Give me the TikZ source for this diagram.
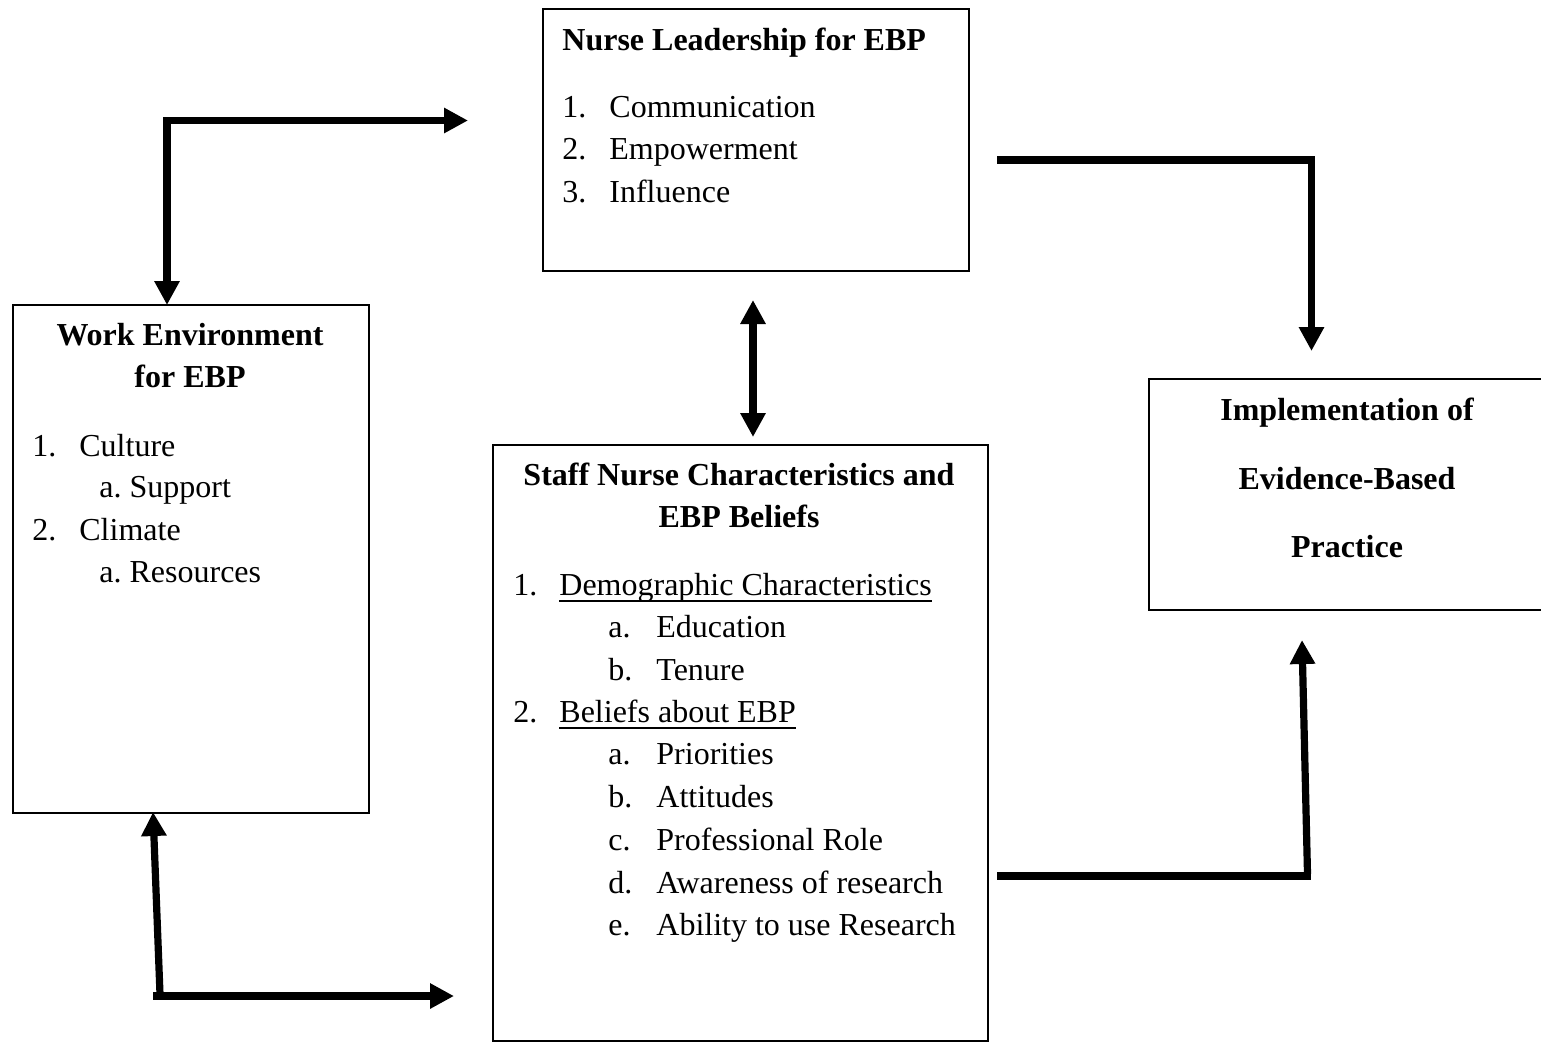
\documentclass[tikz,border=0pt]{standalone}
\usepackage{fontspec}
\setmainfont{Liberation Serif}
\usetikzlibrary{arrows.meta}
\frenchspacing
\begin{document}
\begin{tikzpicture}[x=0.5pt,y=-0.5pt,
  box/.style={draw,line width=1pt,anchor=north west,inner sep=0pt},
  txt/.style={anchor=base west,inner sep=0pt,font=\fontsize{16}{19}\selectfont},
  hd/.style={anchor=base,inner sep=0pt,font=\fontsize{16}{19}\selectfont\bfseries},
  hdl/.style={anchor=base west,inner sep=0pt,font=\fontsize{16}{19}\selectfont\bfseries},
  conn/.style={line width=3.6pt,line join=miter,-{Triangle[length=12pt,width=12pt]}},
  dconn/.style={line width=3.6pt,{Triangle[length=12pt,width=12pt]}-{Triangle[length=12pt,width=12pt]}},
  plain/.style={line width=3.6pt,line join=miter},
  uline/.style={line width=0.85pt}]
\useasboundingbox (0,0) rectangle (1541,1041);
\fill[white] (0,0) rectangle (1541,1041);

% boxes
\node[box,minimum width=213.25pt,minimum height=131.25pt] (lead) at (541.5,7.5) {};
\node[box,minimum width=178.25pt,minimum height=254pt] (work) at (11.5,304) {};
\node[box,minimum width=247.75pt,minimum height=298pt] (staff) at (491.5,444) {};
\node[box,minimum width=199pt,minimum height=115.5pt] (impl) at (1148,378) {};

% Nurse leadership
\node[hdl] (leadh) at (562,50) {Nurse Leadership for EBP};
\node[txt] (l1n) at (562,117) {1.};
\node[txt] (l1) at (609,117) {Communication};
\node[txt] (l2n) at (562,159.5) {2.};
\node[txt] (l2) at (609,159.5) {Empowerment};
\node[txt] (l3n) at (562,202) {3.};
\node[txt] (l3) at (609,202) {Influence};

% Work environment
\node[hd] (workh1) at (190,345) {Work Environment};
\node[hd] (workh2) at (190,387) {for EBP};
\node[txt] (w1n) at (32,456) {1.};
\node[txt] (w1) at (79,456) {Culture};
\node[txt] (w1a) at (99,497) {a. Support};
\node[txt] (w2n) at (32,540) {2.};
\node[txt] (w2) at (79,540) {Climate};
\node[txt] (w2a) at (99,582) {a. Resources};

% Staff nurse
\node[hd] (staffh1) at (739,485) {Staff Nurse Characteristics and};
\node[hd] (staffh2) at (739,527) {EBP Beliefs};
\node[txt] (s1n) at (513,595) {1.};
\node[txt] (s1) at (559,595) {Demographic Characteristics};
\draw[uline] ([yshift=-3pt]s1.base west) -- ([yshift=-3pt]s1.base east);
\node[txt] (s1an) at (608,637) {a.};
\node[txt] (s1a) at (656,637) {Education};
\node[txt] (s1bn) at (608,680) {b.};
\node[txt] (s1b) at (656,680) {Tenure};
\node[txt] (s2n) at (513,722) {2.};
\node[txt] (s2) at (559,722) {Beliefs about EBP};
\draw[uline] ([yshift=-3pt]s2.base west) -- ([yshift=-3pt]s2.base east);
\node[txt] (s2an) at (608,764) {a.};
\node[txt] (s2a) at (656,764) {Priorities};
\node[txt] (s2bn) at (608,807) {b.};
\node[txt] (s2b) at (656,807) {Attitudes};
\node[txt] (s2cn) at (608,850) {c.};
\node[txt] (s2c) at (656,850) {Professional Role};
\node[txt] (s2dn) at (608,893) {d.};
\node[txt] (s2d) at (656,893) {Awareness of research};
\node[txt] (s2en) at (608,935) {e.};
\node[txt] (s2e) at (656,935) {Ability to use Research};

% Implementation
\node[hd] (implh1) at (1347,420) {Implementation of};
\node[hd] (implh2) at (1347,489) {Evidence-Based};
\node[hd] (implh3) at (1347,557) {Practice};

% connector coordinates
\coordinate (tlA) at (167,305);
\coordinate (tlC) at (167,120.5);
\coordinate (tlB) at (468,120.5);
\coordinate (trA) at (997,160);
\coordinate (trC) at (1311.5,160);
\coordinate (trB) at (1311.5,351);
\coordinate (mA) at (753,300);
\coordinate (mB) at (753,437);
\coordinate (blV0) at (160,994);
\coordinate (blV1) at (153,812);
\coordinate (blH0) at (153,996);
\coordinate (blH1) at (454,996);
\coordinate (brH0) at (997,876);
\coordinate (brH1) at (1311,876);
\coordinate (brV0) at (1307.5,874);
\coordinate (brV1) at (1302,640);

% connectors
\draw[dconn,line join=miter] (tlA) -- (tlC) -- (tlB);
\draw[conn] (trA) -- (trC) -- (trB);
\draw[dconn] (mA) -- (mB);
\draw[conn] (blV0) -- (blV1);
\draw[conn] (blH0) -- (blH1);
\draw[plain] (brH0) -- (brH1);
\draw[conn] (brV0) -- (brV1);
\end{tikzpicture}
\end{document}
